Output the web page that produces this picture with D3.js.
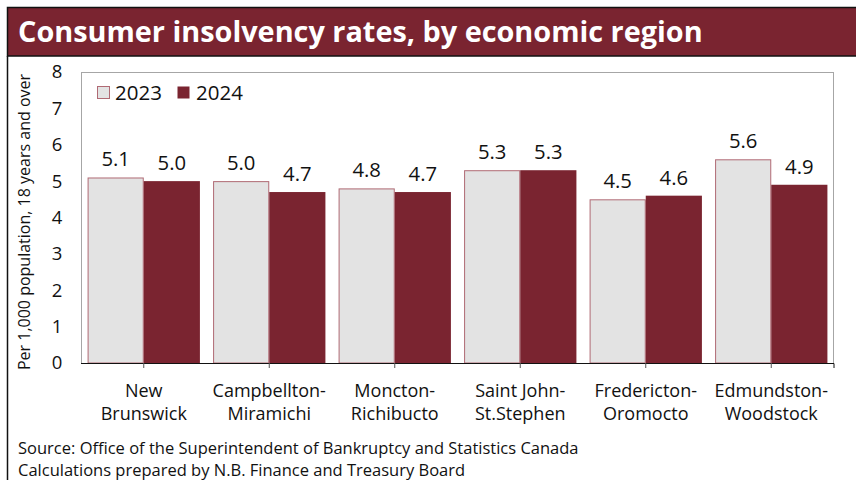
<!DOCTYPE html>
<html><head><meta charset="utf-8">
<script src="https://cdn.jsdelivr.net/npm/d3@7"></script>
<style>body{margin:0;background:#fff}svg{display:block;font-family:"Open Sans","Noto Sans",sans-serif}</style>
</head><body>
<svg id="c" width="856" height="480"></svg>
<script>
const categories = [["New","Brunswick"],["Campbellton-","Miramichi"],["Moncton-","Richibucto"],["Saint John-","St.Stephen"],["Fredericton-","Oromocto"],["Edmundston-","Woodstock"]];
const series = ["2023","2024"];
const values2023 = [5.1,5.0,4.8,5.3,4.5,5.6];
const values2024 = [5.0,4.7,4.7,5.3,4.6,4.9];
const yTicks = [0,1,2,3,4,5,6,7,8];

const svg = d3.select("#c");
const red = "#7A2430", gray = "#E3E3E3";
const m = {l:81, r:834, t:72, b:363};

// title
svg.append("rect").attr("x",7.5).attr("y",7.5).attr("width",850).attr("height",48.5)
  .attr("fill",red).attr("stroke","#111").attr("stroke-width",1.5);
const title = svg.append("text").attr("x",18).attr("y",42).attr("fill","#fff")
  .attr("font-weight",700).attr("font-size",26).text("Consumer insolvency rates, by economic region");
const tl = title.node().getComputedTextLength();
title.attr("font-size", 26*685/tl);
// left border
svg.append("line").attr("x1",7.5).attr("x2",7.5).attr("y1",56).attr("y2",480).attr("stroke","#111").attr("stroke-width",1.5);

const x = d3.scaleBand().domain(d3.range(categories.length)).range([m.l,m.r]).paddingInner(0.105).paddingOuter(0.0525);
const xs = d3.scaleBand().domain(series).range([0,x.bandwidth()]);
const y = d3.scaleLinear().domain([0,8]).range([m.b,m.t]);

// plot frame
svg.append("rect").attr("x",m.l+0.5).attr("y",m.t+0.5).attr("width",m.r-m.l-1).attr("height",m.b-m.t)
  .attr("fill","none").attr("stroke","#A6A6A6").attr("stroke-width",1);

// y axis labels
const yAxis = d3.axisLeft(y).tickValues(yTicks).tickSize(0).tickPadding(0).tickFormat(d3.format("d"));
const ya = svg.append("g").attr("transform",`translate(62,0)`).call(yAxis);
ya.select(".domain").remove();
ya.selectAll("text").attr("font-size",18.5).attr("fill","#111").attr("font-family","Open Sans").attr("text-anchor","middle").attr("dx",-5);

svg.append("text").attr("transform","translate(30,222) rotate(-90)").attr("text-anchor","middle")
  .attr("font-size",16).attr("fill","#111").text("Per 1,000 population, 18 years and over");

// bars
const data = [values2023, values2024];
categories.forEach((c,i)=>{
  series.forEach((s,j)=>{
    const v = data[j][i];
    const bx = x(i)+xs(s);
    svg.append("rect").attr("x",bx+(j===0?0.5:0)).attr("y",y(v)+(j===0?0.5:0))
      .attr("width",xs.bandwidth()-(j===0?1:0)).attr("height",y(0)-y(v)-(j===0?0.5:0))
      .attr("fill",j===0?gray:red).attr("stroke",j===0?"#B06A74":"none").attr("stroke-width",1);
    svg.append("text").attr("x",bx+xs.bandwidth()/2).attr("y",y(v)-11).attr("text-anchor","middle")
      .attr("font-size",20.3).attr("fill","#111").text(d3.format(".1f")(v));
  });
});

// x axis
const xAxis = d3.axisBottom(x).tickSize(5).tickFormat("");
const xa = svg.append("g").attr("transform",`translate(0,${m.b})`).call(xAxis);
xa.select(".domain").attr("d",`M${m.l},0.5H${m.r}V5`).attr("stroke","#111");
xa.selectAll(".tick line").attr("stroke","#555");
categories.forEach((c,i)=>{
  const t = svg.append("text").attr("text-anchor","middle").attr("font-size",18).attr("fill","#111");
  c.forEach((ln,k)=>t.append("tspan").attr("x",x(i)+x.bandwidth()/2).attr("y",397+k*23).text(ln));
});

// legend
const lg = [{s:"2023",x:97,tx:115},{s:"2024",x:177,tx:196}];
lg.forEach((d,j)=>{
  svg.append("rect").attr("x",d.x+0.5).attr("y",86.5).attr("width",12).attr("height",12)
    .attr("fill",j===0?gray:red).attr("stroke",j===0?"#B06A74":"none");
  svg.append("text").attr("x",d.tx).attr("y",100).attr("font-size",20.5).attr("fill","#111").text(d.s);
});

// footer
svg.append("text").attr("x",18).attr("y",454).attr("font-size",16.5).attr("fill","#111")
  .text("Source: Office of the Superintendent of Bankruptcy and Statistics Canada");
svg.append("text").attr("x",18).attr("y",476).attr("font-size",16.5).attr("fill","#111")
  .text("Calculations prepared by N.B. Finance and Treasury Board");
</script>
</body></html>
